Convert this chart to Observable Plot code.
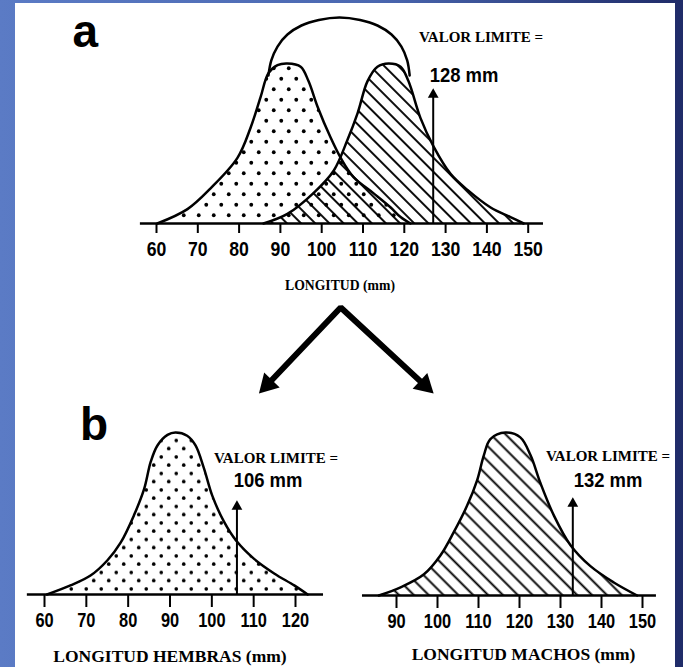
<!DOCTYPE html>
<html><head><meta charset="utf-8">
<script src="https://cdn.jsdelivr.net/npm/d3@7"></script>
<script src="https://cdn.jsdelivr.net/npm/@observablehq/plot@0.6"></script>
<style>
html,body{margin:0;padding:0;}
body{width:683px;height:667px;overflow:hidden;background:linear-gradient(to right,#5b7bc5 0%,#4a67b0 55%,#1f2b68 100%);}
#page{position:relative;width:683px;height:667px;}
#panel{position:absolute;left:15px;top:3px;width:660px;height:664px;background:#fff;}
.chart{position:absolute;}
.lbl{position:absolute;transform:translate(-50%,-50%);white-space:nowrap;line-height:1;color:#000;}
.serif{font-family:'Liberation Serif','Times New Roman',serif;font-weight:bold;}
.narrow{font-family:'Liberation Sans',Arial,sans-serif;font-weight:bold;transform:translate(-50%,-50%) scaleX(0.9);}
.letter{position:absolute;font-family:'Liberation Sans',Arial,sans-serif;font-weight:bold;font-size:46px;line-height:1;color:#000;}
</style></head>
<body><div id="page"><div id="panel"></div>
<svg width="0" height="0" style="position:absolute;left:0;top:0">
<defs>
<pattern id="dotsA" patternUnits="userSpaceOnUse" width="15" height="21">
<circle cx="3.75" cy="5.25" r="1.9" fill="#000"/><circle cx="11.25" cy="15.75" r="1.9" fill="#000"/>
</pattern>
<pattern id="dotsB" patternUnits="userSpaceOnUse" width="15" height="16.5">
<circle cx="3.75" cy="4.1" r="1.8" fill="#000"/><circle cx="11.25" cy="12.4" r="1.8" fill="#000"/>
</pattern>
<pattern id="hatchA" patternUnits="userSpaceOnUse" width="10" height="10" patternTransform="rotate(-45)">
<line x1="5" y1="0" x2="5" y2="10" stroke="#000" stroke-width="1.9"/>
</pattern>
<pattern id="hatchB" patternUnits="userSpaceOnUse" width="10.5" height="10.5" patternTransform="rotate(-45)">
<line x1="5.25" y1="0" x2="5.25" y2="10.5" stroke="#000" stroke-width="1.9"/>
</pattern>
</defs></svg>
</div>
<script>
// ---------- data (length in mm, relative frequency) ----------
const ticksA = [60, 70, 80, 90, 100, 110, 120, 130, 140, 150];
const ticksHembras = [60, 70, 80, 90, 100, 110, 120];
const ticksMachos = [90, 100, 110, 120, 130, 140, 150];

const femaleA = [[60.2,0],[67.5,0.09],[73.1,0.22],[79.6,0.41],[82.8,0.6],[85.2,0.79],[87.1,0.94],[89.3,0.99],[91.7,1.0],[94.9,0.98],[96.8,0.89],[99.0,0.73],[102.1,0.54],[104.6,0.41],[107.7,0.29],[112.5,0.19],[116.7,0.1],[119.1,0.04],[121.5,0]];
const maleA = [[85.9,0],[91.7,0.06],[98.0,0.19],[102.9,0.33],[106.2,0.52],[108.7,0.69],[111.1,0.89],[113.5,0.98],[116.2,1.0],[119.1,0.98],[121.0,0.89],[123.9,0.66],[127.1,0.48],[131.2,0.31],[135.3,0.21],[140.9,0.1],[145.7,0.04],[148.9,0]];
const envelopeA = [[87.1,0.925],[87.8,1.019],[89.3,1.106],[91.7,1.181],[95.1,1.2375],[99.3,1.272],[104.3,1.2875],[109.3,1.272],[113.5,1.2375],[116.9,1.181],[119.3,1.106],[120.7,1.019],[121.3,0.925]];

const femaleB = [[60.6,0],[66.2,0.056],[71.0,0.117],[75.0,0.21],[78.2,0.32],[81.4,0.49],[83.8,0.65],[85.4,0.82],[87.0,0.92],[89.4,0.985],[91.3,1.0],[94.1,0.98],[96.1,0.92],[98.1,0.78],[100.1,0.61],[102.9,0.45],[105.9,0.33],[110.1,0.22],[114.9,0.13],[119.7,0.056],[122.9,0]];
const maleB = [[85.7,0],[91,0.05],[96.7,0.13],[100.7,0.245],[104,0.39],[107.2,0.55],[109.7,0.71],[111.3,0.86],[112.9,0.96],[116.6,1.0],[120.2,0.97],[122.7,0.86],[125.1,0.69],[128.4,0.49],[132.4,0.31],[137.3,0.18],[143,0.08],[148.7,0]];

const limitA = 128, limitHembras = 106, limitMachos = 132;      // label values
const arrowXA = 127, arrowXH = 106, arrowXM = 133;              // drawn positions
const arrowTopA = 0.806, arrowTopH = 0.543, arrowTopM = 0.564;  // arrow heights
const axisSpanA = [56.1, 153.7], axisSpanH = [55.9, 126.7], axisSpanM = [81.7, 153.4];

const splitArrow = [{x:86.9,y:-1.006},{x:104.6,y:-0.525},{x:124.9,y:-1.01}];
const splitHeads = [{x:86.9,y:-1.006,rotate:224},{x:124.9,y:-1.01,rotate:133}];

// ---------- drawing ----------
const SANS = "'Liberation Sans',Arial,sans-serif";
const curve = "catmull-rom";
const X = d => d[0], Y = d => d[1];

function area(data, fill) {
  return Plot.areaY(data, {x: X, y: Y, curve, fill});
}
function outline(data) {
  return Plot.line(data, {x: X, y: Y, curve, stroke: "#000", strokeWidth: 2.5});
}
function limitArrow(xv, top) {
  return [
    Plot.ruleX([xv], {x: d => d, y1: 0, y2: top, stroke: "#000", strokeWidth: 2}),
    Plot.dot([xv], {x: d => d, y: top, symbol: "triangle", r: 4, fill: "#000", stroke: "none"})
  ];
}
function axis(ticks, span, size, pad, fs) {
  return [
    Plot.ruleY([0], {x1: span[0], x2: span[1], stroke: "#000", strokeWidth: 2.5}),
    Plot.axisX(ticks, {tickSize: size, tickPadding: pad, fontSize: fs, fontWeight: "bold", strokeWidth: 2, label: null, fill: "#000"})
  ];
}
function place(svg, left, top) {
  svg.classList.add("chart");
  svg.style.left = left + "px";
  svg.style.top = top + "px";
  document.getElementById("page").appendChild(svg);
  // condensed look of the original tick numerals
  svg.querySelectorAll('g[aria-label="x-axis tick label"] text').forEach(t => {
    const w = t.getComputedTextLength();
    if (w > 0) {
      t.setAttribute("textLength", (w * 0.84).toFixed(2));
      t.setAttribute("lengthAdjust", "spacingAndGlyphs");
    }
  });
}
const style = {background: "transparent", overflow: "visible", fontFamily: SANS, color: "#000"};

const chartA = Plot.plot({
  width: 683, height: 400,
  marginLeft: 156, marginRight: 155.3, marginTop: 63, marginBottom: 177,
  x: {domain: [60, 150]}, y: {domain: [0, 1], axis: null},
  style,
  marks: [
    area(femaleA, "url(#dotsA)"),
    area(maleA, "url(#hatchA)"),
    outline(femaleA), outline(maleA), outline(envelopeA),
    ...axis(ticksA, axisSpanA, 10, 8, 21),
    ...limitArrow(arrowXA, arrowTopA),
    Plot.line(splitArrow, {x: "x", y: "y", stroke: "#000", strokeWidth: 6, strokeLinejoin: "miter"}),
    Plot.dot(splitHeads, {x: "x", y: "y", rotate: "rotate", symbol: "triangle", r: 8, fill: "#000", stroke: "none"})
  ]
});
place(chartA, 0, 0);

const chartH = Plot.plot({
  width: 340, height: 272,
  marginLeft: 44, marginRight: 45, marginTop: 37, marginBottom: 73,
  x: {domain: [60, 120]}, y: {domain: [0, 1], axis: null},
  style,
  marks: [
    area(femaleB, "url(#dotsB)"),
    outline(femaleB),
    ...axis(ticksHembras, axisSpanH, 13, 6, 19.5),
    ...limitArrow(arrowXH, arrowTopH)
  ]
});
place(chartH, 0, 395);

const chartM = Plot.plot({
  width: 343, height: 272,
  marginLeft: 56, marginRight: 41, marginTop: 37, marginBottom: 72,
  x: {domain: [90, 150]}, y: {domain: [0, 1], axis: null},
  style,
  marks: [
    area(maleB, "url(#hatchB)"),
    outline(maleB),
    ...axis(ticksMachos, axisSpanM, 13, 6, 19.5),
    ...limitArrow(arrowXM, arrowTopM)
  ]
});
place(chartM, 340, 395);

// ---------- texts ----------
const page = document.getElementById("page");
function label(text, cls, fs, cx, cy) {
  const d = document.createElement("div");
  d.className = "lbl " + cls;
  d.style.fontSize = fs + "px";
  d.style.left = cx + "px";
  d.style.top = cy + "px";
  d.textContent = text;
  page.appendChild(d);
}
function letter(text, left, top) {
  const d = document.createElement("div");
  d.className = "letter";
  d.style.left = left + "px";
  d.style.top = top + "px";
  d.textContent = text;
  page.appendChild(d);
}
letter("a", 72.5, 8);
letter("b", 80, 401);
label("VALOR LIMITE =", "serif", 15, 481, 37);
label(limitA + " mm", "narrow", 20.5, 463.5, 75);
label("LONGITUD (mm)", "serif", 13.7, 340, 286);
label("VALOR LIMITE =", "serif", 15, 276, 458);
label(limitHembras + " mm", "narrow", 20.5, 267.5, 480);
label("VALOR LIMITE =", "serif", 15, 608, 456);
label(limitMachos + " mm", "narrow", 20.5, 607.5, 480);
label("LONGITUD HEMBRAS (mm)", "serif", 17.5, 170, 657);
label("LONGITUD MACHOS (mm)", "serif", 17.5, 523.5, 655);
</script>
</body></html>
